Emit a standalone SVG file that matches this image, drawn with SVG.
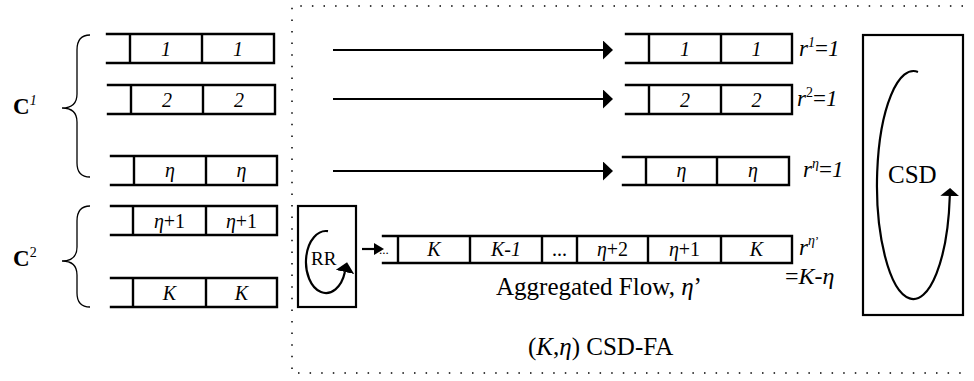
<svg xmlns="http://www.w3.org/2000/svg" width="974" height="381" viewBox="0 0 974 381">
  <defs>
    <style>
      text { font-family: 'Liberation Serif', 'Times New Roman', 'DejaVu Serif', serif; fill: #000; }
      .q { fill: none; stroke: #000; stroke-width: 2.4; stroke-linecap: square; }
      .cell { font-size: 20px; text-anchor: middle; }
      .it { font-style: italic; }
      .brace { fill: none; stroke: #000; stroke-width: 1.3; }
      .box { fill: none; stroke: #000; stroke-width: 2.2; }
      .arrow { fill: none; stroke: #000; stroke-width: 2.2; }
      .dots { fill: none; stroke: #000; stroke-width: 1.5; stroke-dasharray: 1.5 10.1; }
    </style>
    <marker id="head" markerUnits="userSpaceOnUse" viewBox="0 0 10 19" markerWidth="10" markerHeight="19" refX="0" refY="9.5" orient="auto">
      <path d="M0,0 L10,9.5 L0,19 z" fill="#000"/>
    </marker>
    <marker id="headShort" markerUnits="userSpaceOnUse" viewBox="0 0 8 19" markerWidth="8" markerHeight="19" refX="0" refY="9.5" orient="auto">
      <path d="M0,0 L8,9.5 L0,19 z" fill="#000"/>
    </marker>
    <marker id="headSmall" markerUnits="userSpaceOnUse" viewBox="0 0 10 12" markerWidth="10" markerHeight="12" refX="0" refY="6" orient="auto">
      <path d="M0,0 L10,6 L0,12 z" fill="#000"/>
    </marker>
  </defs>

  <rect width="974" height="381" fill="#fff"/>

  <g font-family="Liberation Serif, Times New Roman, serif">
  <!-- dotted boundary of the (K, eta) CSD-FA scheduler -->
  <path id="fa-boundary" class="dots" d="M963,6 H292 V373 H963"/>

  <!-- class labels and braces -->
  <g id="class-c1">
    <path class="brace" d="M90,35 Q77,35 77,50 L77,94 Q77,108 62,108 Q77,108 77,122 L77,163 Q77,177 90,177"/>
    <text x="13" y="114" font-size="23" font-weight="bold">C<tspan font-size="14" font-weight="normal" font-style="italic" dy="-9">1</tspan></text>
  </g>
  <g id="class-c2">
    <path class="brace" d="M90,206 Q77,206 77,221 L77,247 Q77,261 62,261 Q77,261 77,275 L77,293 Q77,307 90,307"/>
    <text x="13" y="266" font-size="23" font-weight="bold">C<tspan font-size="14" font-weight="normal" dy="-9">2</tspan></text>
  </g>

  <!-- input flow queues -->
  <g id="in-q1">
    <path class="q" d="M107,34 H274 V63 H107 M130,34 V63 M202,34 V63"/>
    <text class="cell it" x="166" y="56">1</text>
    <text class="cell it" x="238" y="56">1</text>
  </g>
  <g id="in-q2">
    <path class="q" d="M108,85 H275 V114 H108 M131,85 V114 M203,85 V114"/>
    <text class="cell it" x="167" y="107">2</text>
    <text class="cell it" x="239" y="107">2</text>
  </g>
  <g id="in-qeta">
    <path class="q" d="M111,156 H277 V185 H111 M134,156 V185 M206,156 V185"/>
    <text class="cell it" x="170" y="177">η</text>
    <text class="cell it" x="241.5" y="177">η</text>
  </g>
  <g id="in-qeta1">
    <path class="q" d="M111,206 H277 V235 H111 M133,206 V235 M206,206 V235"/>
    <text class="cell" x="169.5" y="228"><tspan class="it">η</tspan>+1</text>
    <text class="cell" x="241.5" y="228"><tspan class="it">η</tspan>+1</text>
  </g>
  <g id="in-qK">
    <path class="q" d="M111,278 H277 V307 H111 M133,278 V307 M206,278 V307"/>
    <text class="cell it" x="169.5" y="300">K</text>
    <text class="cell it" x="241.5" y="300">K</text>
  </g>

  <!-- round-robin aggregator -->
  <g id="rr">
    <rect class="box" x="298" y="206" width="58" height="101"/>
    <text x="311" y="265" font-size="19">RR</text>
  </g>

  <!-- output queues -->
  <g id="out-q1">
    <path class="q" d="M626,34 H792 V63 H626 M649,34 V63 M721,34 V63"/>
    <text class="cell it" x="685" y="56">1</text>
    <text class="cell it" x="756.5" y="56">1</text>
    <text x="799" y="56" font-size="23"><tspan class="it">r</tspan><tspan class="it" font-size="14" dy="-9">1</tspan><tspan dy="9">=</tspan><tspan class="it">1</tspan></text>
  </g>
  <g id="out-q2">
    <path class="q" d="M626,85 H792 V114 H626 M649,85 V114 M721,85 V114"/>
    <text class="cell it" x="685" y="107">2</text>
    <text class="cell it" x="756.5" y="107">2</text>
    <text x="797" y="106" font-size="23"><tspan class="it">r</tspan><tspan font-size="14" dy="-9">2</tspan><tspan dy="9">=</tspan><tspan class="it">1</tspan></text>
  </g>
  <g id="out-qeta">
    <path class="q" d="M623,157 H789 V185 H623 M646,157 V185 M717,157 V185"/>
    <text class="cell it" x="681.5" y="177">η</text>
    <text class="cell it" x="753" y="177">η</text>
    <text x="803" y="177" font-size="23"><tspan class="it">r</tspan><tspan class="it" font-size="14" dy="-9">η</tspan><tspan dy="9">=</tspan><tspan class="it">1</tspan></text>
  </g>
  <g id="aggregated-q">
    <path class="q" d="M383,236 H792 V263 H383 M398,236 V263 M470,236 V263 M542,236 V263 M577,236 V263 M648,236 V263 M721,236 V263"/>
    <text x="379" y="254" font-size="13">...</text>
    <text class="cell it" x="434" y="256">K</text>
    <text class="cell it" x="506" y="256">K-1</text>
    <text class="cell" x="559.5" y="256" font-size="14">...</text>
    <text class="cell" x="612.5" y="256"><tspan class="it">η</tspan>+2</text>
    <text class="cell" x="684.5" y="256"><tspan class="it">η</tspan>+1</text>
    <text class="cell it" x="756.5" y="256">K</text>
    <text x="799" y="255" font-size="23"><tspan class="it">r</tspan><tspan class="it" font-size="14" dy="-10">η</tspan><tspan font-size="12">’</tspan></text>
    <text x="785" y="284" font-size="24">=<tspan class="it">K</tspan>-<tspan class="it">η</tspan></text>
    <text x="496" y="295" font-size="25">Aggregated Flow, <tspan class="it">η</tspan>’</text>
  </g>

  <!-- CSD scheduler -->
  <g id="csd">
    <rect class="box" x="863" y="35" width="100" height="280"/>
    <text x="888" y="183" font-size="25">CSD</text>
  </g>

  <text id="fa-label" x="528" y="355" font-size="25">(<tspan class="it">K</tspan>,<tspan class="it">η</tspan>) CSD-FA</text>

  <!-- connectors -->
  <g id="connectors">
    <line class="arrow" x1="333" y1="50" x2="603" y2="50" marker-end="url(#head)"/>
    <line class="arrow" x1="333" y1="99" x2="603" y2="99" marker-end="url(#head)"/>
    <line class="arrow" x1="333" y1="171" x2="603" y2="171" marker-end="url(#head)"/>
    <line class="arrow" x1="362" y1="249" x2="374" y2="249" marker-end="url(#headSmall)"/>
    <path class="arrow" d="M328,231.2 A20,31 0 1 0 344.9,272" marker-end="url(#head)"/>
    <path class="arrow" d="M918,71.9 A36.5,114 0 1 0 949.8,196" marker-end="url(#headShort)"/>
  </g>
  </g>
</svg>
